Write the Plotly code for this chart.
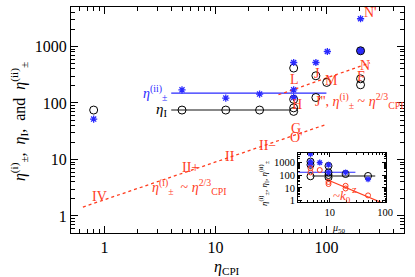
import plotly.graph_objects as go
import math

# ---------------- data (main panel) ----------------
eta_I_x = [0.8, 5, 12.4, 25, 50.7, 50.7, 50.7, 50.7, 80.4, 80.4, 100.6, 203, 203]
eta_I_y = [75, 75, 75, 75, 415, 116, 82, 71, 303, 125, 231, 268, 210]

eta_ii_x = [0.8, 5, 12.4, 25, 50.7, 50.7, 50.7, 80.4, 102, 203, 203]
eta_ii_y = [52, 171, 122, 144, 521, 171, 125, 521, 816, 840, 3100]

filled_x = [203]
filled_y = [840]

line_I_x = [4.0, 48]
line_I_y = [75, 75]
line_ii_x = [4.0, 100]
line_ii_y = [150, 150]

guide_low_x = [0.64, 97]
guide_low_y = [1.44, 41]
guide_up_x = [37, 247]
guide_up_y = [140, 514]

label_text = ["N'", "N", "F", "M", "J", "L", "H", "G", "O'", "II\u2212", "II", "II+", "IV"]
label_x = [251, 222, 204, 111, 82, 51.4, 54.7, 53.5, 53.5, 29.7, 13.5, 5.96, 0.9]
label_y = [3950, 455, 291, 247, 329, 257, 93, 36, 24.2, 17.5, 11.2, 7.1, 2.19]

x_ticks = [1, 10, 100]
y_ticks = [1, 10, 100, 1000]

# ---------------- data (inset) ----------------
in_circ_x = [4.5, 4.5, 4.5, 9.5, 9.5, 9.5, 9.5, 19.3, 49]
in_circ_y = [1120, 620, 80, 510, 160, 100, 65, 120, 85]
in_star_x = [4.5, 4.5, 4.5, 6.6, 9.5, 9.5, 19.3, 49]
in_star_y = [4400, 1100, 620, 930, 620, 160, 160, 47]
in_red_x = [4.5, 4.5, 6.6, 9.5, 9.5, 19.3, 19.3, 49]
in_red_y = [340, 160, 245, 29, 20, 14.5, 9, 2.6]
in_blue_line_x = [2.7, 29]
in_blue_line_y = [165, 165]
in_gray_line_x = [4.85, 66]
in_gray_line_y = [85, 85]
in_red_line_x = [8.6, 92]
in_red_line_y = [47, 0.63]
in_x_ticks = [10, 100]
in_y_ticks = [1, 10, 100, 1000]

RED = "#ff3c1e"
BLUE = "#2a2aff"
GRAY = "#888888"
FONT = "Liberation Serif"

fig = go.Figure()

# main lines
fig.add_trace(go.Scatter(x=line_I_x, y=line_I_y, mode="lines",
                         line=dict(color=GRAY, width=2), showlegend=False))
fig.add_trace(go.Scatter(x=line_ii_x, y=line_ii_y, mode="lines",
                         line=dict(color=BLUE, width=1.3), showlegend=False))
fig.add_trace(go.Scatter(x=guide_low_x, y=guide_low_y, mode="lines",
                         line=dict(color=RED, width=1.3, dash="dot"), showlegend=False))
fig.add_trace(go.Scatter(x=guide_up_x, y=guide_up_y, mode="lines",
                         line=dict(color=RED, width=1.3, dash="dot"), showlegend=False))
# main markers
fig.add_trace(go.Scatter(x=eta_I_x, y=eta_I_y, mode="markers",
                         marker=dict(symbol="circle-open", size=8, color="black",
                                     line=dict(width=1)), showlegend=False))
fig.add_trace(go.Scatter(x=filled_x, y=filled_y, mode="markers",
                         marker=dict(symbol="circle", size=8, color="#3030c0",
                                     line=dict(width=1, color="black")), showlegend=False))
fig.add_trace(go.Scatter(x=eta_ii_x, y=eta_ii_y, mode="markers",
                         marker=dict(symbol="asterisk-open", size=6, color=BLUE,
                                     line=dict(width=1.3, color=BLUE)), showlegend=False))

# inset traces
fig.add_trace(go.Scatter(x=in_gray_line_x, y=in_gray_line_y, mode="lines", xaxis="x2", yaxis="y2",
                         line=dict(color=GRAY, width=2), showlegend=False))
fig.add_trace(go.Scatter(x=in_blue_line_x, y=in_blue_line_y, mode="lines", xaxis="x2", yaxis="y2",
                         line=dict(color=BLUE, width=1.2), showlegend=False))
fig.add_trace(go.Scatter(x=in_red_line_x, y=in_red_line_y, mode="lines", xaxis="x2", yaxis="y2",
                         line=dict(color=RED, width=1.2), showlegend=False))
fig.add_trace(go.Scatter(x=in_circ_x, y=in_circ_y, mode="markers", xaxis="x2", yaxis="y2",
                         marker=dict(symbol="circle-open", size=7, color="black",
                                     line=dict(width=1)), showlegend=False))
fig.add_trace(go.Scatter(x=in_star_x, y=in_star_y, mode="markers", xaxis="x2", yaxis="y2",
                         marker=dict(symbol="asterisk-open", size=5, color=BLUE,
                                     line=dict(width=1.3, color=BLUE)), showlegend=False))
fig.add_trace(go.Scatter(x=in_red_x, y=in_red_y, mode="markers", xaxis="x2", yaxis="y2",
                         marker=dict(symbol="circle-open", size=5, color=RED,
                                     line=dict(width=1)), showlegend=False))

axis_common = dict(type="log", showgrid=False, zeroline=False, showline=True,
                   linecolor="black", linewidth=1, mirror="ticks", ticks="inside",
                   tickcolor="black")

fig.update_layout(
    width=415, height=277,
    margin=dict(l=71, r=4, t=7, b=44),
    paper_bgcolor="white", plot_bgcolor="white",
    font=dict(family=FONT, color="black"),
    hovermode=False,
    xaxis=dict(**axis_common, range=[math.log10(0.5), math.log10(500)],
               tickvals=x_ticks, ticktext=[str(v) for v in x_ticks], ticklen=7,
               tickfont=dict(size=16, family=FONT),
               minor=dict(ticks="inside", ticklen=4, dtick="D1", tickcolor="black")),
    yaxis=dict(**axis_common, range=[math.log10(0.5), math.log10(5000)],
               tickvals=y_ticks, ticktext=[str(v) for v in y_ticks], ticklen=7,
               tickfont=dict(size=16, family=FONT),
               minor=dict(ticks="inside", ticklen=4, dtick="D1", tickcolor="black")),
    xaxis2=dict(**axis_common, domain=[0.682, 0.947], anchor="y2",
                range=[0.43, 2.02], tickvals=in_x_ticks,
                ticktext=[str(v) for v in in_x_ticks], ticklen=4,
                tickfont=dict(size=10.5, family=FONT),
                minor=dict(ticks="inside", ticklen=2, dtick="D1", tickcolor="black")),
    yaxis2=dict(**axis_common, domain=[0.137, 0.356], anchor="x2",
                range=[-0.1, 3.75], tickvals=in_y_ticks,
                ticktext=[str(v) for v in in_y_ticks], ticklen=4,
                tickfont=dict(size=10.5, family=FONT),
                minor=dict(ticks="inside", ticklen=2, dtick="D1", tickcolor="black")),
)

ann = []
for t, x, y in zip(label_text, label_x, label_y):
    ann.append(dict(x=math.log10(x), y=math.log10(y), xref="x", yref="y", text=t,
                    xanchor="center", yanchor="middle",
                    showarrow=False, font=dict(size=14, color=RED, family=FONT)))

# J'' formula (upper right)
ann.append(dict(x=math.log10(76), y=math.log10(108), xref="x", yref="y", xanchor="left",
                yanchor="middle",
                text="J'', <i>η</i><sup>(i)</sup><sub>±</sub> ~ <i>η</i><sup>2/3</sup><sub>CPI</sub>",
                showarrow=False, font=dict(size=14, color=RED, family=FONT)))
# lower formula
ann.append(dict(x=math.log10(2.6), y=math.log10(3.2), xref="x", yref="y", xanchor="left",
                yanchor="middle",
                text="<i>η</i><sup>(i)</sup><sub>±</sub>  ~ <i>η</i><sup>2/3</sup><sub>CPI</sub>",
                showarrow=False, font=dict(size=14, color=RED, family=FONT)))
# line labels
ann.append(dict(x=math.log10(3.8), y=math.log10(150), xref="x", yref="y", xanchor="right",
                yanchor="middle",
                text="<i>η</i><sup>(ii)</sup><sub>±</sub>", showarrow=False,
                font=dict(size=14, color=BLUE, family=FONT)))
ann.append(dict(x=math.log10(3.8), y=math.log10(75), xref="x", yref="y", xanchor="right",
                yanchor="middle",
                text="<i>η</i><sub>I</sub>", showarrow=False,
                font=dict(size=15, color="black", family=FONT)))
# inset labels
ann.append(dict(x=math.log10(10.5), y=math.log10(2.2), xref="x2", yref="y2", xanchor="left",
                yanchor="middle",
                text="~<i>k</i><sub>0</sub>", showarrow=False,
                font=dict(size=13, color=RED, family=FONT)))
ann.append(dict(x=math.log10(23), y=math.log10(8), xref="x2", yref="y2", xanchor="left",
                yanchor="middle",
                text="z", showarrow=False, font=dict(size=11, color=RED, family=FONT)))
# axis titles
ann.append(dict(x=(230 - 71) / 340, y=(233 - 267) / 226, xref="paper", yref="paper",
                xanchor="center", yanchor="middle",
                text="<i>η</i><sub>CPI</sub>", showarrow=False,
                font=dict(size=16, family=FONT)))
ann.append(dict(x=(18 - 71) / 340, y=(233 - 122) / 226, xref="paper", yref="paper", textangle=-90,
                xanchor="center", yanchor="middle",
                text="<i>η</i><sup>(i)</sup><sub>±</sub>,  <i>η</i><sub>I</sub>,  and  <i>η</i><sup>(ii)</sup><sub>±</sub>",
                showarrow=False, font=dict(size=16, family=FONT)))
ann.append(dict(x=(345 - 71) / 340, y=(233 - 228) / 226, xref="paper", yref="paper",
                xanchor="center", yanchor="middle",
                text="<i>μ</i><sub>50</sub>", showarrow=False,
                font=dict(size=10, family=FONT)))
ann.append(dict(x=(267 - 71) / 340, y=(233 - 183) / 226, xref="paper", yref="paper", textangle=-90,
                xanchor="center", yanchor="middle",
                text="<i>η</i><sup>(i)</sup><sub>±</sub>, <i>η</i><sub>I</sub>, <i>η</i><sup>(ii)</sup><sub>±</sub>",
                showarrow=False, font=dict(size=9, family=FONT)))

fig.update_layout(annotations=ann)
fig.write_html("out.html", config={"displayModeBar": False, "staticPlot": True},
               post_script="document.body.style.margin='0';document.body.style.padding='0';")
